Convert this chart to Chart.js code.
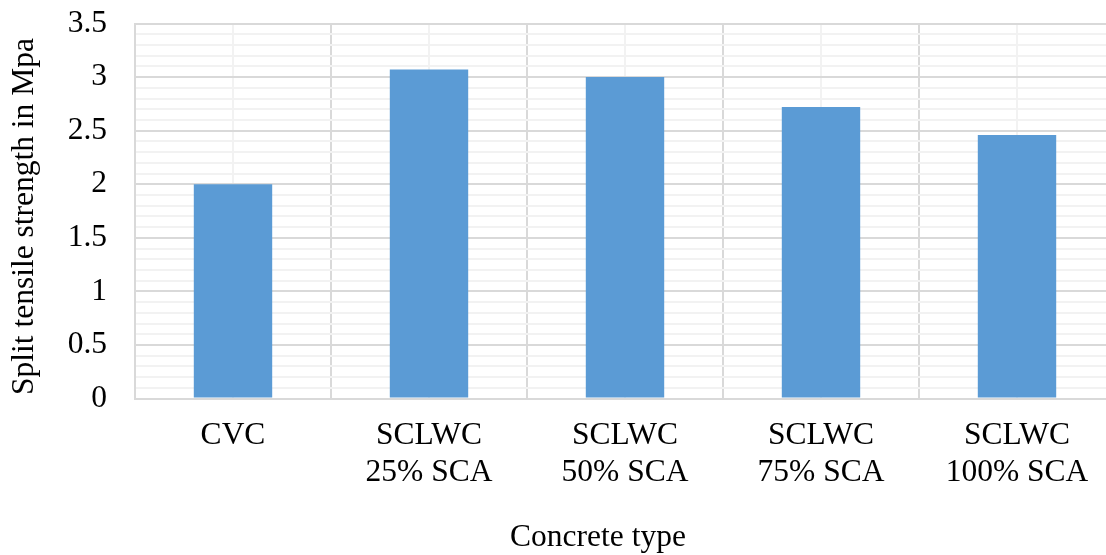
<!DOCTYPE html>
<html>
<head>
<meta charset="utf-8">
<script src="https://cdn.jsdelivr.net/npm/chart.js@4/dist/chart.umd.min.js"></script>
<style>
  html, body { margin: 0; padding: 0; background: #ffffff; overflow: hidden; }
  #wrap { width: 1106px; height: 555px; overflow: hidden; position: relative; }
  canvas { display: block; }
</style>
</head>
<body>
<div id="wrap"><canvas id="chart" width="1115" height="555"></canvas></div>
<script>
// Concrete mixes and their split tensile strength (MPa)
const categories = [
  ['CVC'],
  ['SCLWC', '25% SCA'],
  ['SCLWC', '50% SCA'],
  ['SCLWC', '75% SCA'],
  ['SCLWC', '100% SCA']
];
const strength = [2.0, 3.07, 3.0, 2.72, 2.46];
const yMin = 0;
const yMax = 3.5;
const yStep = 0.1;
const yLabelStep = 0.5;
const xTitle = 'Concrete type';
const yTitle = 'Split tensile strength in Mpa';

const FONT = "'Liberation Serif', 'Times New Roman', serif";
const FONT_SIZE = 31.5;
const MAJOR = '#d9d9d9';
const MINOR = '#f2f2f2';
const GRID_W = 2;

const isMajor = v => Math.abs(v / yLabelStep - Math.round(v / yLabelStep)) < 1e-6;

// light lines through the middle of every category, under the other grid lines
const centerLines = {
  id: 'centerLines',
  beforeDraw(chart) {
    const { ctx, chartArea, scales } = chart;
    ctx.save();
    ctx.strokeStyle = MINOR;
    ctx.lineWidth = GRID_W;
    categories.forEach((c, i) => {
      const x = Math.round(scales.x.getPixelForValue(i));
      ctx.beginPath();
      ctx.moveTo(x, chartArea.top);
      ctx.lineTo(x, chartArea.bottom);
      ctx.stroke();
    });
    ctx.restore();
  }
};

// axis titles
const axisTitles = {
  id: 'axisTitles',
  afterDraw(chart) {
    const { ctx, chartArea } = chart;
    ctx.save();
    ctx.font = FONT_SIZE + 'px ' + FONT;
    ctx.fillStyle = '#000000';
    ctx.textAlign = 'center';
    ctx.textBaseline = 'middle';
    ctx.fillText(xTitle, chartArea.left + 463, 538);
    ctx.translate(25, chartArea.top + 193);
    ctx.rotate(-Math.PI / 2);
    ctx.fillText(yTitle, 0, 0);
    ctx.restore();
  }
};

new Chart(document.getElementById('chart'), {
  type: 'bar',
  data: {
    labels: categories,
    datasets: [{
      data: strength,
      backgroundColor: '#5b9bd5',
      borderWidth: 0,
      barPercentage: 0.4,
      categoryPercentage: 1.0
    }]
  },
  options: {
    responsive: false,
    animation: false,
    layout: { padding: { top: 23.5, right: 0, bottom: 0, left: 0 } },
    plugins: {
      legend: { display: false },
      tooltip: { enabled: false }
    },
    scales: {
      x: {
        grid: { color: MAJOR, lineWidth: GRID_W, drawTicks: false, offset: true },
        border: { color: MAJOR, width: GRID_W },
        ticks: {
          color: '#000000',
          font: { family: FONT, size: FONT_SIZE, lineHeight: 1.2 },
          padding: 18,
          maxRotation: 0,
          autoSkip: false
        },
        afterFit(scale) {
          scale.height = 156.5;
          scale.paddingLeft = 0;
          scale.paddingRight = 0;
        }
      },
      y: {
        min: yMin,
        max: yMax,
        grid: {
          color: ctx => isMajor(ctx.tick.value) ? MAJOR : MINOR,
          lineWidth: GRID_W,
          drawTicks: false
        },
        border: { color: MAJOR, width: GRID_W },
        ticks: {
          stepSize: yStep,
          autoSkip: false,
          color: '#000000',
          font: { family: FONT, size: FONT_SIZE, lineHeight: 1.2 },
          padding: 28,
          callback: v => isMajor(v) ? String(Math.round(v * 10) / 10) : ''
        },
        afterFit(scale) {
          scale.width = 135;
          scale.paddingTop = 0;
          scale.paddingBottom = 0;
        }
      }
    }
  },
  plugins: [centerLines, axisTitles]
});
</script>
</body>
</html>
